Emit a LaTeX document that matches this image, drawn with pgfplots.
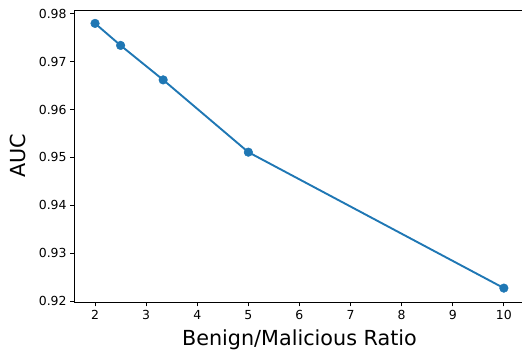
\documentclass[border=0pt]{standalone}
\usepackage{pgfplots}
\pgfplotsset{compat=1.18}
\usepackage{fontspec}
\setmainfont{DejaVu Sans}
\definecolor{mplblue}{HTML}{1F77B4}
\begin{document}
\begin{tikzpicture}
\begin{axis}[
  name=ax,
  scale only axis,
  width=449.7bp, height=292bp,
  xmin=1.6, xmax=10.4,
  ymin=0.9198, ymax=0.9808,
  xtick={2,3,4,5,6,7,8,9,10},
  ytick={0.92,0.93,0.94,0.95,0.96,0.97,0.98},
  yticklabel style={/pgf/number format/fixed,/pgf/number format/precision=2,/pgf/number format/fixed zerofill},
  /pgf/number format/assume math mode=true,
  tick pos=left,
  tick align=outside,
  major tick length=4.5bp,
  tick style={black, line width=0.8pt},
  axis line style={black, line width=0.8pt},
  ticklabel style={font=\fontsize{12.5}{14}\selectfont},
  xlabel={Benign/Malicious Ratio},
  ylabel={AUC},
  every axis x label/.style={at={(rel axis cs:0.5,0)}, anchor=base, yshift=-43.5bp, font=\fontsize{20.8}{24}\selectfont},
  every axis y label/.style={at={(rel axis cs:-0.1259,0.5)}, anchor=center, rotate=90, font=\fontsize{20.8}{24}\selectfont},
  clip=false,
]
\addplot[color=mplblue, line width=1.9bp, mark=*, mark size=4.3bp, mark options={fill=mplblue, draw=mplblue, line width=0.5pt}]
coordinates {(2,0.9780) (2.5,0.9734) (3.3333,0.9662) (5,0.9511) (10,0.9227)};
\end{axis}
\pgfresetboundingbox
\path ([shift={(-74.6bp,10bp)}]ax.north west) rectangle ([shift={(447.4bp,-340bp)}]ax.north west);
\end{tikzpicture}
\end{document}
